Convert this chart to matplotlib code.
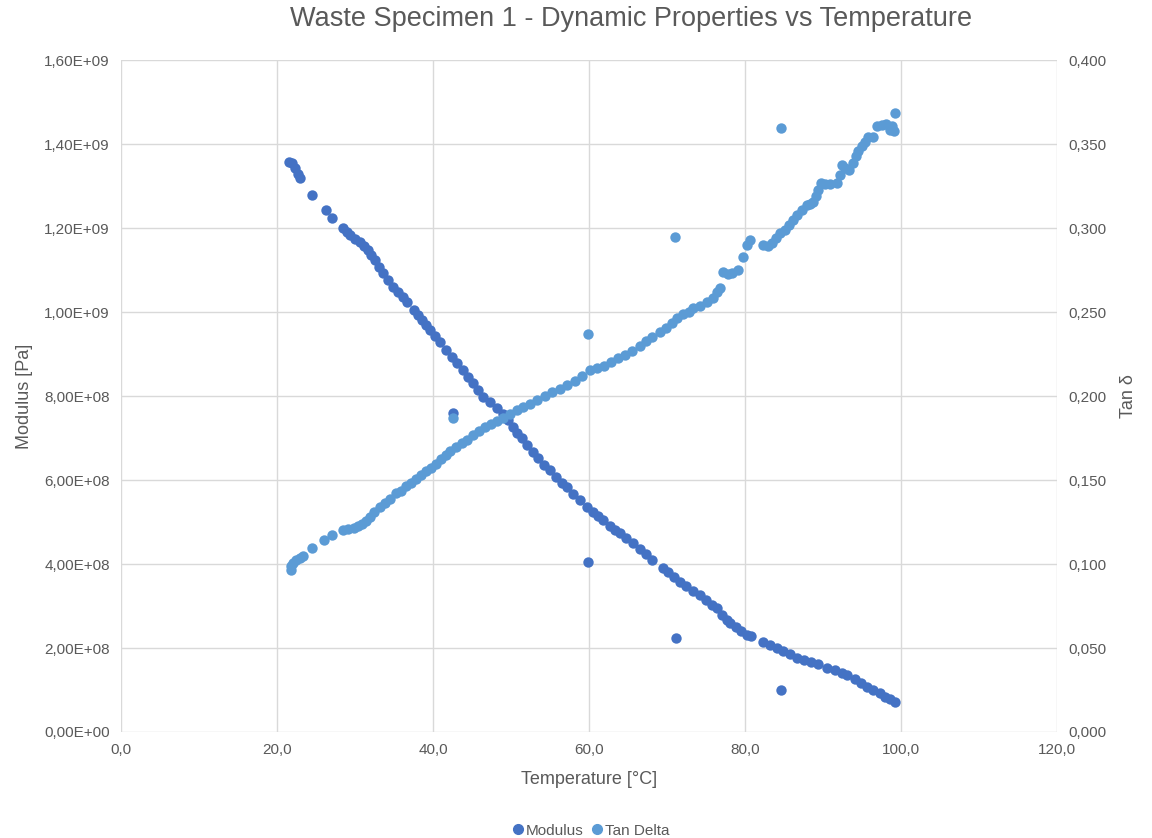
import matplotlib
matplotlib.use("Agg")
import matplotlib.pyplot as plt
from matplotlib.ticker import FuncFormatter, MultipleLocator
from matplotlib.lines import Line2D

plt.rcParams["font.family"] = ["Liberation Sans", "DejaVu Sans"]

title = "Waste Specimen 1 - Dynamic Properties vs Temperature"

# modulus readings (temperature in degC, modulus in 1E9 Pa)
mod_temp = [21.54, 21.92, 22.31, 22.69, 22.95, 24.49, 26.28, 27.05, 28.46, 28.97,
            29.36, 30.0, 30.64, 31.15, 31.67, 32.05, 32.56, 33.08, 33.59, 34.23,
            34.87, 35.51, 36.15, 36.67, 37.56, 38.08, 38.59, 39.10, 39.62, 40.26,
            40.90, 41.67, 42.44, 43.08, 43.85, 44.49, 45.13, 45.77, 46.41, 47.31,
            48.21, 48.97, 49.62, 50.26, 50.77, 51.41, 52.05, 52.82, 53.46, 54.23,
            55.0, 55.77, 56.54, 57.18, 57.95, 58.85, 59.74, 60.51, 61.15, 61.79,
            62.69, 63.33, 63.97, 64.74, 65.64, 66.54, 67.31, 68.08, 69.49, 70.13,
            70.90, 71.67, 72.44, 73.33, 74.23, 75.0, 75.77, 76.41, 77.05, 77.69,
            78.08, 78.85, 79.49, 80.26, 80.77, 82.31, 83.21, 84.10, 84.87, 85.77,
            86.67, 87.56, 88.46, 89.36, 90.51, 91.54, 92.44, 93.08, 94.10, 94.87,
            95.64, 96.41, 97.31, 97.95, 98.59, 99.23,
            42.6, 59.9, 71.2, 84.6]
mod_val = [1.357, 1.355, 1.343, 1.329, 1.319, 1.279, 1.243, 1.224, 1.200, 1.190,
           1.183, 1.174, 1.167, 1.157, 1.148, 1.136, 1.124, 1.107, 1.093, 1.076,
           1.060, 1.048, 1.036, 1.024, 1.005, 0.993, 0.981, 0.969, 0.957, 0.943,
           0.929, 0.910, 0.893, 0.879, 0.862, 0.845, 0.831, 0.814, 0.798, 0.786,
           0.771, 0.757, 0.743, 0.726, 0.712, 0.700, 0.683, 0.667, 0.652, 0.636,
           0.624, 0.607, 0.593, 0.583, 0.567, 0.552, 0.536, 0.524, 0.514, 0.505,
           0.490, 0.481, 0.474, 0.462, 0.450, 0.436, 0.424, 0.410, 0.390, 0.381,
           0.369, 0.357, 0.348, 0.336, 0.326, 0.314, 0.302, 0.295, 0.279, 0.267,
           0.260, 0.250, 0.240, 0.231, 0.229, 0.214, 0.207, 0.200, 0.193, 0.186,
           0.176, 0.171, 0.167, 0.162, 0.152, 0.148, 0.140, 0.136, 0.126, 0.117,
           0.107, 0.100, 0.093, 0.083, 0.079, 0.071,
           0.760, 0.405, 0.223, 0.100]

# tan delta readings
tan_temp = [21.79, 21.79, 22.05, 22.44, 22.95, 23.33, 24.49, 26.03, 27.05, 28.46,
            29.10, 29.87, 30.38, 30.90, 31.41, 31.92, 32.44, 33.21, 33.85, 34.49,
            35.26, 35.90, 36.54, 37.18, 37.82, 38.46, 39.10, 39.74, 40.38, 41.03,
            41.67, 42.18, 42.95, 43.72, 44.36, 45.13, 45.90, 46.67, 47.44, 48.21,
            48.97, 49.87, 50.77, 51.54, 52.44, 53.33, 54.36, 55.26, 56.28, 57.18,
            58.21, 59.10, 60.13, 61.03, 61.92, 62.82, 63.72, 64.62, 65.51, 66.54,
            67.31, 68.08, 69.10, 69.87, 70.64, 71.28, 72.05, 72.82, 73.33, 74.23,
            75.13, 75.90, 76.41, 76.79, 77.18, 77.82, 78.33, 79.10, 79.74, 80.26,
            80.64, 82.31, 82.95, 83.46, 83.97, 84.49, 85.13, 85.64, 86.15, 86.67,
            87.31, 87.95, 88.33, 88.72, 89.10, 89.36, 89.74, 90.26, 90.90, 91.79,
            92.18, 92.44, 92.82, 93.33, 93.85, 94.23, 94.49, 95.0, 95.38, 95.77,
            96.41, 96.92, 97.56, 98.08, 98.59, 98.85, 99.10, 99.23,
            42.6, 59.9, 71.0, 84.6]
tan_val = [0.0964, 0.0988, 0.1006, 0.1024, 0.1036, 0.1048, 0.1095, 0.1143, 0.1173, 0.1202,
           0.1208, 0.1214, 0.1226, 0.1238, 0.1256, 0.1280, 0.1310, 0.1339, 0.1363, 0.1387,
           0.1423, 0.1435, 0.1464, 0.1482, 0.1506, 0.1530, 0.1554, 0.1571, 0.1595, 0.1625,
           0.1649, 0.1673, 0.1696, 0.1720, 0.1738, 0.1768, 0.1792, 0.1815, 0.1833, 0.1851,
           0.1869, 0.1893, 0.1917, 0.1935, 0.1952, 0.1976, 0.2000, 0.2024, 0.2042, 0.2065,
           0.2089, 0.2119, 0.2155, 0.2167, 0.2179, 0.2202, 0.2226, 0.2244, 0.2268, 0.2298,
           0.2327, 0.2351, 0.2381, 0.2405, 0.2435, 0.2464, 0.2488, 0.2500, 0.2524, 0.2536,
           0.2560, 0.2583, 0.2619, 0.2643, 0.2738, 0.2726, 0.2732, 0.2750, 0.2827, 0.2899,
           0.2929, 0.2899, 0.2893, 0.2911, 0.2940, 0.2970, 0.2988, 0.3018, 0.3048, 0.3077,
           0.3107, 0.3137, 0.3143, 0.3155, 0.3190, 0.3226, 0.3268, 0.3262, 0.3262, 0.3268,
           0.3315, 0.3375, 0.3357, 0.3345, 0.3387, 0.3429, 0.3458, 0.3488, 0.3512, 0.3542,
           0.3542, 0.3607, 0.3613, 0.3619, 0.3583, 0.3607, 0.3577, 0.3685,
           0.187, 0.237, 0.295, 0.360]

mod_color = "#4472C4"
tan_color = "#5B9BD5"
text_color = "#595959"
grid_color = "#D9D9D9"

fig = plt.figure(figsize=(11.52, 8.38), dpi=100)
ax = fig.add_axes([0.105, 0.1265, 0.8125, 0.8015])
ax2 = ax.twinx()

ax.scatter(mod_temp, [v * 1e9 for v in mod_val], s=56, color=mod_color, linewidths=0, zorder=3)
ax2.scatter(tan_temp, tan_val, s=56, color=tan_color, linewidths=0, zorder=3)

ax.set_xlim(0, 120)
ax.set_ylim(0, 1.6e9)
ax2.set_ylim(0, 0.4)
ax.xaxis.set_major_locator(MultipleLocator(20))
ax.yaxis.set_major_locator(MultipleLocator(2e8))
ax2.yaxis.set_major_locator(MultipleLocator(0.05))

ax.xaxis.set_major_formatter(FuncFormatter(lambda v, p: f"{v:.1f}".replace(".", ",")))
ax.yaxis.set_major_formatter(FuncFormatter(lambda v, p: f"{v:.2E}".replace(".", ",")))
ax2.yaxis.set_major_formatter(FuncFormatter(lambda v, p: f"{v:.3f}".replace(".", ",")))

ax.grid(True, color=grid_color, linewidth=1)
ax.set_axisbelow(True)
for a in (ax, ax2):
    for s in a.spines.values():
        s.set_visible(False)
    a.tick_params(length=0, labelsize=11, labelcolor=text_color, pad=8)

ax.set_xlabel("Temperature [°C]", fontsize=13, color=text_color, labelpad=10)
ax.set_ylabel("Modulus [Pa]", fontsize=13, color=text_color, labelpad=8)
ax2.set_ylabel("Tan δ", fontsize=13, color=text_color, labelpad=10)

fig.suptitle(title, x=0.548, y=0.993, fontsize=19.5, color=text_color, va="top")

handles = [Line2D([], [], marker="o", linestyle="", color=mod_color, markersize=7),
           Line2D([], [], marker="o", linestyle="", color=tan_color, markersize=7)]
fig.legend(handles, ["Modulus", "Tan Delta"], loc="lower center", bbox_to_anchor=(0.512, -0.016),
           ncol=2, frameon=False, fontsize=11, labelcolor=text_color,
           handletextpad=0.0, columnspacing=0.4, handlelength=1.0)

fig.savefig("out.png", dpi=100)
